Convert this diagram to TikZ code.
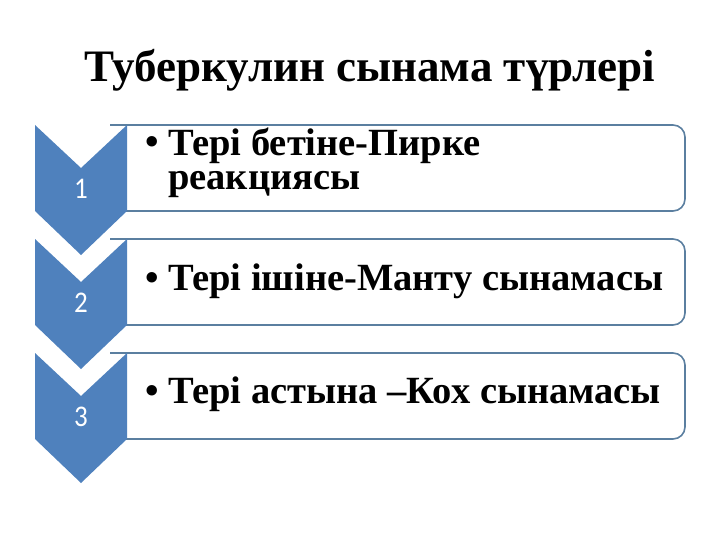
\documentclass[tikz,border=0pt]{standalone}
\usepackage{fontspec}
\setmainfont{Liberation Serif}
\newfontfamily\numfont{Carlito}[FakeStretch=0.9]
\definecolor{chevblue}{HTML}{4F81BD}
\definecolor{rimblue}{HTML}{5B7FA0}
\begin{document}
\begin{tikzpicture}[x=1pt, y=-1pt, line join=round]
	\def\cw{46}
	\def\dn{43}
	\def\sd{86}
	\tikzset{ch/.style={fill=chevblue},
		bx/.style={draw=rimblue, line width=1.6pt, fill=white, rounded corners=12pt},
		nm/.style={text=white, font=\numfont\fontsize{30}{30}\selectfont},
		tx/.style={anchor=base west, inner sep=0pt, align=left, font=\bfseries\fontsize{38.5}{35}\selectfont}}
	\useasboundingbox (0,0) rectangle (720,540);
	\node[anchor=base, inner sep=0pt, font=\bfseries\fontsize{45}{45}\selectfont] (title) at (370,82) {Туберкулин сынама түрлері};
	\foreach \i/\t in {1/125,2/239,3/353}{
		\draw[bx] (110,\t) -| (685,\t+\sd) -- (110,\t+\sd);
		\fill[ch] (81-\cw,\t) -- (81,\t+\dn) -- (81+\cw,\t) -- (81+\cw,\t+\sd) -- (81,\t+\sd+44) -- (81-\cw,\t+\sd) -- cycle;
		\node[nm] (n\i) at (81,\t+64) {\i};
	}
	% base of a two-line node is its last line
	\path (145,155)node[tx](b1){•}++(23,35)node[tx](t1){Тері бетіне-Пирке\\реакциясы};
	\path (145,290)node[tx](b2){•}++(23,0)node[tx](t2){Тері ішіне-Манту сынамасы};
	\path (145,403)node[tx](b3){•}++(23,0)node[tx](t3){Тері астына –Кох сынамасы};
\end{tikzpicture}
\end{document}
